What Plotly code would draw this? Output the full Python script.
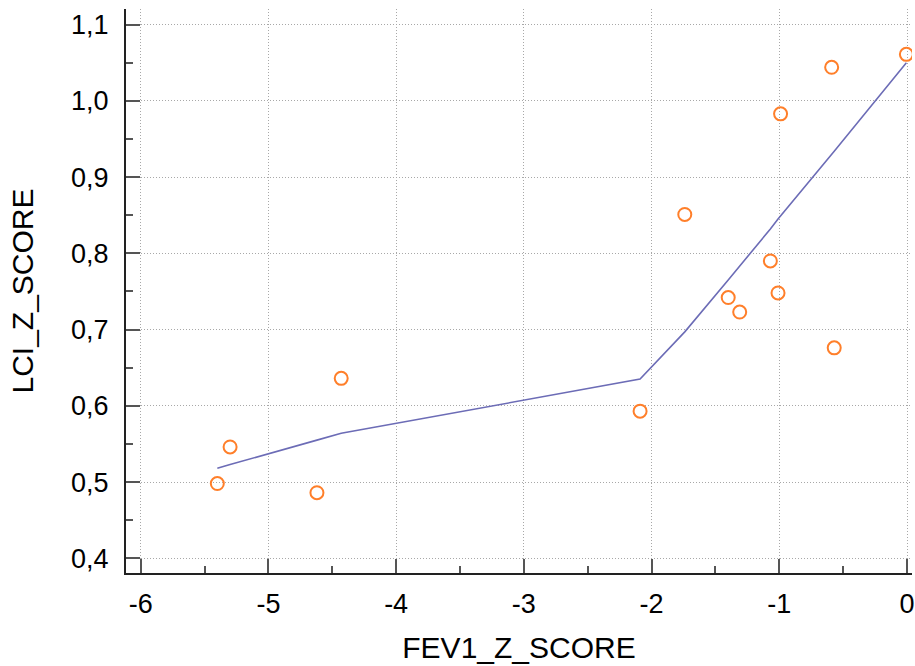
import plotly.graph_objects as go

# Data
fev1_z = [-5.40, -5.30, -4.62, -4.43, -2.09, -1.74, -1.40, -1.31, -1.07, -1.01, -0.99, -0.59, -0.57, -0.005]
lci_z = [0.498, 0.546, 0.486, 0.636, 0.593, 0.851, 0.742, 0.723, 0.790, 0.748, 0.983, 1.044, 0.676, 1.061]

fit_x = [-5.40, -5.30, -4.62, -4.43, -2.09, -1.74, -1.40, -1.31, -1.07, -1.01, -0.99, -0.59, -0.57, -0.005]
fit_y = [0.518, 0.523, 0.555, 0.564, 0.635, 0.697, 0.765, 0.783, 0.832, 0.845, 0.849, 0.930, 0.934, 1.050]

x_ticks = [-6, -5, -4, -3, -2, -1, 0]
x_tick_labels = ["-6", "-5", "-4", "-3", "-2", "-1", "0"]
y_ticks = [0.4, 0.5, 0.6, 0.7, 0.8, 0.9, 1.0, 1.1]
y_tick_labels = ["0,4", "0,5", "0,6", "0,7", "0,8", "0,9", "1,0", "1,1"]

FONT = "Liberation Sans, Arial, sans-serif"

fig = go.Figure()
fig.add_trace(go.Scatter(
    x=fit_x, y=fit_y, mode="lines",
    line=dict(color="#6c6cb6", width=1.6),
    showlegend=False, hoverinfo="skip",
))
fig.add_trace(go.Scatter(
    x=fev1_z, y=lci_z, mode="markers",
    marker=dict(symbol="circle-open", size=13, color="#ff7f2a", line=dict(width=2, color="#ff7f2a")),
    showlegend=False,
))

axis_common = dict(
    showline=True, linecolor="#222222", linewidth=2,
    ticks="inside", ticklen=14, tickwidth=2, tickcolor="#555555",
    showgrid=True, gridcolor="#a8a8a8", gridwidth=1, griddash="1px,2px",
    zeroline=False, mirror=False,
    tickfont=dict(family=FONT, size=27, color="#000000"),
    ticklabeloverflow="allow",
    minor=dict(ticks="inside", ticklen=7, tickwidth=2, tickcolor="#555555", showgrid=False),
)

fig.update_layout(
    width=915, height=666,
    margin=dict(l=126, r=0, t=9, b=93),
    paper_bgcolor="white", plot_bgcolor="white",
    font=dict(family=FONT, color="#000000"),
    xaxis=dict(
        range=[-6.115, 0.039],
        tickmode="array", tickvals=x_ticks, ticktext=x_tick_labels,
        minor_tickvals=[-5.5, -4.5, -3.5, -2.5, -1.5, -0.5],
        title=dict(text="FEV1_Z_SCORE", font=dict(family=FONT, size=30, color="#000000"), standoff=19),
        ticklabelstandoff=6,
        **axis_common,
    ),
    yaxis=dict(
        range=[0.3807, 1.1205],
        tickmode="array", tickvals=y_ticks, ticktext=y_tick_labels,
        minor_tickvals=[0.45, 0.55, 0.65, 0.75, 0.85, 0.95, 1.05],
        title=dict(text="LCI_Z_SCORE", font=dict(family=FONT, size=30, color="#000000"), standoff=29),
        ticklabelstandoff=10,
        **axis_common,
    ),
)

fig.write_html("out.html")
